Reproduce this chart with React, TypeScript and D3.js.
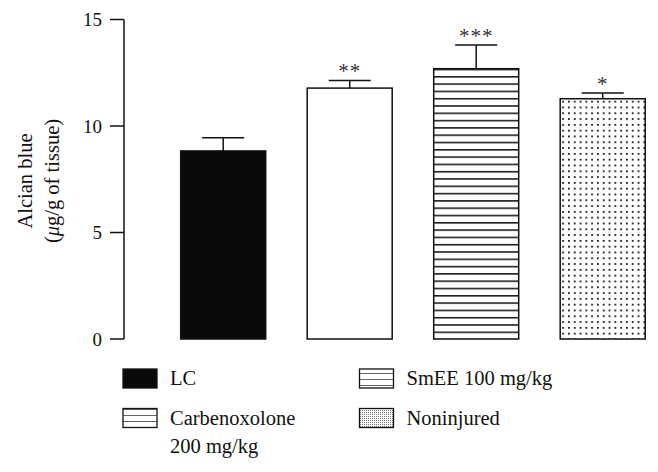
import React from 'react';
import * as d3 from 'd3';

// values
const groups = ['LC', 'Carbenoxolone 200 mg/kg', 'SmEE 100 mg/kg', 'Noninjured'];
const means = [8.83, 11.78, 12.69, 11.28];
const sems = [0.62, 0.36, 1.11, 0.27];
const stars = ['', '**', '***', '*'];
const yTicks = [0, 5, 10, 15];
const fills = ['#0a0a0a', '#ffffff', 'url(#hlines)', 'url(#dots)'];

// legend layout (note: the original legend uses stripes for Carbenoxolone too)
const legendItems = [
  { lines: ['LC'], swatch: '#0a0a0a', col: 0, row: 0 },
  { lines: ['SmEE 100 mg/kg'], swatch: 'url(#hlinesSmall)', col: 1, row: 0 },
  { lines: ['Carbenoxolone', '200 mg/kg'], swatch: 'url(#hlinesSmall)', col: 0, row: 1 },
  { lines: ['Noninjured'], swatch: 'url(#finedots)', col: 1, row: 1 },
];

const W = 658;
const H = 472;
const FONT = '"Liberation Serif", "DejaVu Serif", serif';

export default function App() {
  const axisX = 124;
  const y = d3.scaleLinear().domain([0, 15]).range([339, 19.5]);
  const x = d3.scaleBand<string>()
    .domain(groups)
    .range([180.7, 645.2])
    .paddingInner(0.328)
    .paddingOuter(0);
  const bw = x.bandwidth();

  return (
    <div style={{ position: 'absolute', left: 0, top: 0 }}>
      <svg width={W} height={H} style={{ display: 'block', background: '#fff' }} fontFamily={FONT}>
        <defs>
          <pattern id="hlines" patternUnits="userSpaceOnUse" width={10} height={7.3}
            patternTransform={`translate(0,${y(means[2])})`}>
            <rect width={10} height={7.3} fill="#fff" />
            <line x1={0} x2={10} y1={0.8} y2={0.8} stroke="#111" strokeWidth={1.5} />
          </pattern>
          <pattern id="dots" patternUnits="userSpaceOnUse" width={5.8} height={5.8}
            patternTransform={`translate(${(x(groups[3]) ?? 0) + 2},${y(means[3]) + 2})`}>
            <rect width={5.8} height={5.8} fill="#fff" />
            <rect x={0} y={0} width={1.8} height={1.8} fill="#1a1a1a" />
          </pattern>
          <pattern id="hlinesSmall" patternUnits="userSpaceOnUse" width={10} height={6}
            patternTransform="translate(0,1)">
            <rect width={10} height={6} fill="#fff" />
            <line x1={0} x2={10} y1={0} y2={0} stroke="#111" strokeWidth={1.3} />
          </pattern>
          <pattern id="finedots" patternUnits="userSpaceOnUse" width={2} height={2}>
            <rect width={2} height={2} fill="#fff" />
            <rect width={1} height={1} fill="#777" />
          </pattern>
        </defs>

        {/* y axis */}
        <line x1={axisX} x2={axisX} y1={y(15)} y2={y(0)} stroke="#111" strokeWidth={1.5} />
        {yTicks.map(t => (
          <g key={t}>
            <line x1={axisX - 14} x2={axisX} y1={y(t)} y2={y(t)} stroke="#111" strokeWidth={1.5} />
            <text x={axisX - 22} y={y(t)} dy="0.35em" textAnchor="end" fontSize={19} fill="#111">{t}</text>
          </g>
        ))}
        <text transform={`translate(32,${181}) rotate(-90)`} textAnchor="middle" fontSize={20.5} fill="#111">
          Alcian blue
        </text>
        <text transform={`translate(59,${181}) rotate(-90)`} textAnchor="middle" fontSize={20.5} fill="#111">
          (<tspan fontStyle="italic">μ</tspan>g/g of tissue)
        </text>

        {/* bars with error bars */}
        {groups.map((g, i) => {
          const x0 = x(g) ?? 0;
          const cx = x0 + bw / 2;
          const top = y(means[i]);
          const errTop = y(means[i] + sems[i]);
          return (
            <g key={g}>
              <line x1={cx} x2={cx} y1={top} y2={errTop} stroke="#111" strokeWidth={1.5} />
              <line x1={cx - 21} x2={cx + 21} y1={errTop} y2={errTop} stroke="#111" strokeWidth={1.5} />
              <rect x={x0} y={top} width={bw} height={y(0) - top} fill={fills[i]} stroke="#111" strokeWidth={1.5} />
              {stars[i] && (
                <text x={cx} y={errTop - 2} textAnchor="middle" fontSize={21} fill="#333"
                  letterSpacing={1}>{stars[i]}</text>
              )}
            </g>
          );
        })}

        {/* legend */}
        {legendItems.map(item => {
          const sx = item.col === 0 ? 123 : 359.5;
          const sy = item.row === 0 ? 369 : 408.5;
          return (
            <g key={item.lines[0]}>
              <rect x={sx} y={sy} width={34} height={19} fill={item.swatch} stroke="#111" strokeWidth={1.3} />
              {item.lines.map((l, k) => (
                <text key={l} x={sx + 47} y={sy + 16 + k * 28.5} fontSize={20.5} fill="#111">{l}</text>
              ))}
            </g>
          );
        })}
      </svg>
    </div>
  );
}
